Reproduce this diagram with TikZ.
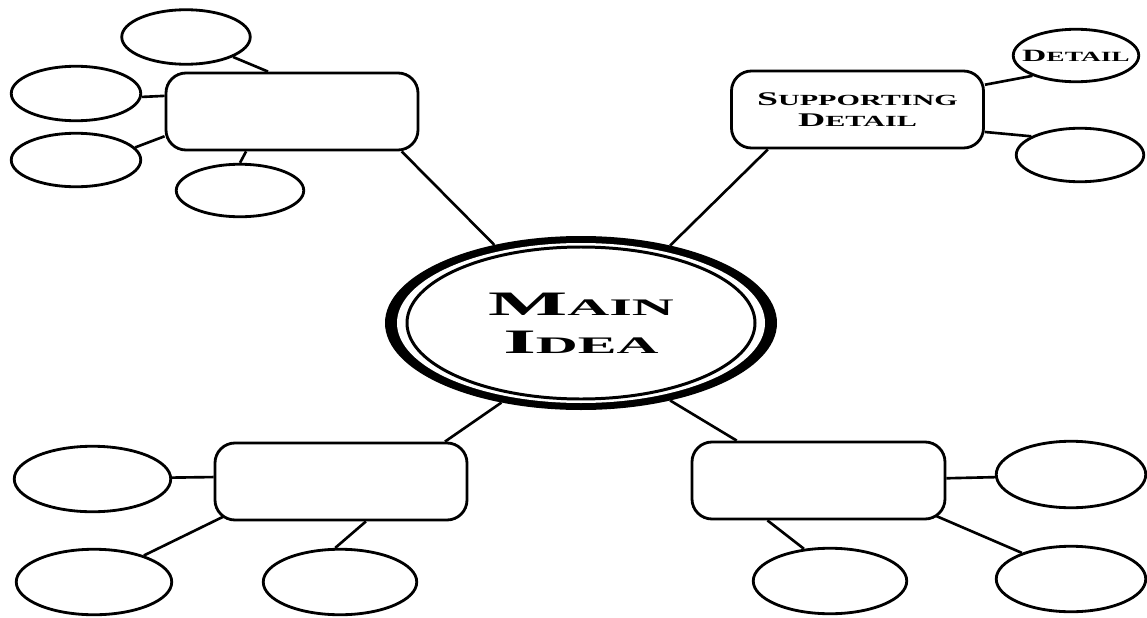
\documentclass[tikz,border=0pt]{standalone}
\usepackage{fontspec}
\usepackage{tikz}
\usetikzlibrary{shapes.geometric, backgrounds}
\newfontfamily\ideafont[FakeStretch=2.45]{Liberation Serif}
\newfontfamily\capfont[FakeStretch=1.95]{Liberation Serif}
\newcommand{\lowcaps}[2]{{\fontsize{#1}{#1}\selectfont #2}}

\begin{document}
\begin{tikzpicture}[
  sub/.style={draw, rounded corners=0.4cm, line width=1.6pt, fill=white, minimum width=5.04cm,
              minimum height=1.54cm, align=center, inner sep=0pt},
  leaf/.style={draw, ellipse, line width=1.6pt, fill=white, inner sep=0pt},
  hub/.style={ellipse, inner sep=0pt, outer sep=0pt},
  link/.style={line width=1.5pt}
]
  \useasboundingbox (0,0) rectangle (22.94,12.34);

  \node[hub, fill=black, minimum width=7.84cm, minimum height=3.48cm] (main) at (11.62,5.88) {};
  \node[hub, fill=white, minimum width=7.36cm, minimum height=3.2cm] (gap) at (main) {};
  \node[hub, draw, line width=1.7pt, minimum width=6.96cm, minimum height=3.04cm, align=center,
        font=\ideafont\bfseries\fontsize{19.5}{21.6}\selectfont] (idea) at (main)
        {M\lowcaps{13.5}{AIN}\\I\lowcaps{13.5}{DEA}};

  \node[sub] (tl) at (5.84,10.11) {};
  \node[sub, font=\capfont\bfseries\fontsize{11}{11.6}\selectfont] (tr) at (17.15,10.15)
        {S\lowcaps{8.8}{UPPORTING}\\D\lowcaps{8.8}{ETAIL}};
  \node[sub] (bl) at (6.82,2.71) {};
  \node[sub, minimum width=5.06cm] (br) at (16.37,2.73) {};

  \node[leaf, minimum width=2.57cm, minimum height=1.09cm] (t1) at (3.72,11.60) {};
  \node[leaf, minimum width=2.59cm, minimum height=1.09cm] (t2) at (1.52,10.47) {};
  \node[leaf, minimum width=2.59cm, minimum height=1.07cm] (t3) at (1.52,9.14) {};
  \node[leaf, minimum width=2.55cm, minimum height=1.05cm] (t4) at (4.80,8.53) {};

  \node[leaf, minimum width=2.51cm, minimum height=1.05cm,
        label={[font=\capfont\bfseries\fontsize{9.8}{10}\selectfont]center:D\lowcaps{8}{ETAIL}}] (d1) at (21.52,11.23) {};
  \node[leaf, minimum width=2.55cm, minimum height=1.07cm] (d2) at (21.60,9.24) {};

  \node[leaf, minimum width=3.13cm, minimum height=1.31cm] (bl1) at (1.85,2.76) {};
  \node[leaf, minimum width=3.11cm, minimum height=1.31cm] (bl2) at (1.88,0.70) {};
  \node[leaf, minimum width=3.07cm, minimum height=1.31cm] (bl3) at (6.80,0.70) {};

  \node[leaf, minimum width=2.99cm, minimum height=1.33cm] (br1) at (21.42,2.85) {};
  \node[leaf, minimum width=3.07cm, minimum height=1.31cm] (br2) at (16.60,0.72) {};
  \node[leaf, minimum width=2.99cm, minimum height=1.31cm] (br3) at (21.42,0.76) {};

  \begin{scope}[on background layer]
    \draw[link] (tl.-20.5) -- (main.138.8);
    \draw[link] (tr.-156.7) -- (main.41.2);
    \draw[link] (bl.21.7) -- (main.-135.4);
    \draw[link] (br.154.4) -- (main.-41.5);

    \draw[link] (t1.-23) -- (tl.121.9);
    \draw[link] (t2.-3) -- (tl.173.4);
    \draw[link] (t3.12.9) -- (tl.-169.4);
    \draw[link] (t4.90) -- (tl.-139.5);

    \draw[link] (tr.11) -- (d1.-155.9);
    \draw[link] (tr.-10.6) -- (d2.159.2);

    \draw[link] (bl1.1) -- (bl.178.4);
    \draw[link, shorten >=-9pt] (bl2.28) -- (bl.south west);
    \draw[link] (bl3.98) -- (bl.-58.1);

    \draw[link] (br1.182) -- (br.1.6);
    \draw[link] (br2.129) -- (br.-142.7);
    \draw[link, shorten >=-9pt] (br3.152) -- (br.south east);
  \end{scope}
\end{tikzpicture}
\end{document}
